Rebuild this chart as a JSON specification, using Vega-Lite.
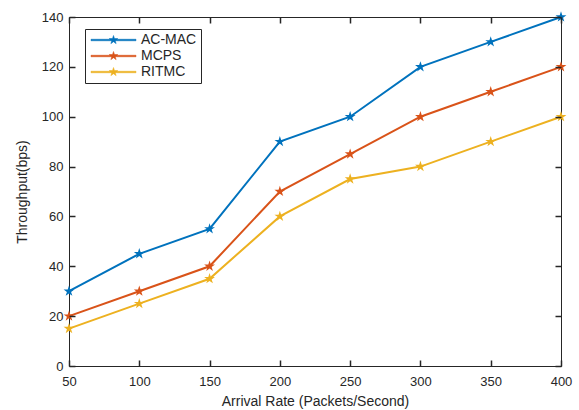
{
  "$schema": "https://vega.github.io/schema/vega-lite/v6.json",
  "width": 492,
  "height": 349,
  "autosize": {"type": "none"},
  "padding": {"left": 69, "top": 17, "right": 18, "bottom": 44},
  "background": "white",
  "config": {
    "font": "Liberation Sans",
    "view": {"stroke": "#262626", "strokeWidth": 1},
    "axis": {
      "grid": false,
      "domain": false,
      "labelFlush": false,
      "labelColor": "#262626",
      "labelFontSize": 13,
      "titleFontSize": 14,
      "titleFontWeight": "normal",
      "titleColor": "#262626"
    }
  },
  "data": {
    "values": [
      {"rate": 50, "series": "AC-MAC", "tp": 30},
      {"rate": 100, "series": "AC-MAC", "tp": 45},
      {"rate": 150, "series": "AC-MAC", "tp": 55},
      {"rate": 200, "series": "AC-MAC", "tp": 90},
      {"rate": 250, "series": "AC-MAC", "tp": 100},
      {"rate": 300, "series": "AC-MAC", "tp": 120},
      {"rate": 350, "series": "AC-MAC", "tp": 130},
      {"rate": 400, "series": "AC-MAC", "tp": 140},
      {"rate": 50, "series": "MCPS", "tp": 20},
      {"rate": 100, "series": "MCPS", "tp": 30},
      {"rate": 150, "series": "MCPS", "tp": 40},
      {"rate": 200, "series": "MCPS", "tp": 70},
      {"rate": 250, "series": "MCPS", "tp": 85},
      {"rate": 300, "series": "MCPS", "tp": 100},
      {"rate": 350, "series": "MCPS", "tp": 110},
      {"rate": 400, "series": "MCPS", "tp": 120},
      {"rate": 50, "series": "RITMC", "tp": 15},
      {"rate": 100, "series": "RITMC", "tp": 25},
      {"rate": 150, "series": "RITMC", "tp": 35},
      {"rate": 200, "series": "RITMC", "tp": 60},
      {"rate": 250, "series": "RITMC", "tp": 75},
      {"rate": 300, "series": "RITMC", "tp": 80},
      {"rate": 350, "series": "RITMC", "tp": 90},
      {"rate": 400, "series": "RITMC", "tp": 100}
    ]
  },
  "resolve": {"axis": {"x": "independent", "y": "independent"}},
  "layer": [
    {
      "mark": {"type": "line", "strokeWidth": 2},
      "encoding": {
        "x": {"field": "rate", "type": "quantitative", "scale": {"domain": [50, 400], "nice": false},
              "axis": {"values": [50,100,150,200,250,300,350,400], "title": "Arrival Rate (Packets/Second)", "ticks": true, "tickSize": 6, "tickColor": "#262626", "tickWidth": 1.5, "tickOpacity": 1, "offset": -6, "zindex": 1, "labelPadding": 9, "titlePadding": 6}},
        "y": {"field": "tp", "type": "quantitative", "scale": {"domain": [0, 140], "nice": false},
              "axis": {"values": [0,20,40,60,80,100,120,140], "title": "Throughput(bps)", "ticks": true, "tickSize": 6, "tickColor": "#262626", "tickWidth": 1.5, "tickOpacity": 1, "offset": -6, "zindex": 1, "labelPadding": 6, "titlePadding": 12}},
        "color": {"field": "series", "type": "nominal",
                  "scale": {"domain": ["AC-MAC", "MCPS", "RITMC"], "range": ["#0072BD", "#D95319", "#EDB120"]},
                  "legend": {
                    "title": null,
                    "orient": "none",
                    "legendX": 16,
                    "legendY": 12,
                    "fillColor": "white",
                    "strokeColor": "#262626",
                    "padding": 4,
                    "symbolType": "M-1,-0.15L8,-0.15L8,0.15L-1,0.15Z M3.5,-0.9L3.7,-0.28L4.36,-0.28L3.83,0.11L4.03,0.73L3.5,0.34L2.97,0.73L3.17,0.11L2.64,-0.28L3.3,-0.28Z",
                    "symbolSize": 100,
                    "symbolStrokeWidth": 0.5,
                    "symbolOpacity": 1,
                    "labelFontSize": 14,
                    "labelColor": "#262626",
                    "labelOffset": 38,
                    "rowPadding": 2,
                    "offset": 0
                  }}
      }
    },
    {
      "mark": {"type": "point", "filled": true, "size": 130, "opacity": 1,
               "shape": "M0,-1L0.2245,-0.309L0.9511,-0.309L0.3633,0.118L0.5878,0.809L0,0.382L-0.5878,0.809L-0.3633,0.118L-0.9511,-0.309L-0.2245,-0.309Z"},
      "encoding": {
        "x": {"field": "rate", "type": "quantitative",
              "axis": {"orient": "top", "values": [50,100,150,200,250,300,350,400], "labels": false, "title": null, "ticks": true, "tickSize": 6, "tickColor": "#262626", "tickWidth": 1.5, "tickOpacity": 1, "offset": -6, "zindex": 1}},
        "y": {"field": "tp", "type": "quantitative",
              "axis": {"orient": "right", "values": [0,20,40,60,80,100,120,140], "labels": false, "title": null, "ticks": true, "tickSize": 6, "tickColor": "#262626", "tickWidth": 1.5, "tickOpacity": 1, "offset": -6, "zindex": 1}},
        "color": {"field": "series", "type": "nominal"}
      }
    }
  ]
}
